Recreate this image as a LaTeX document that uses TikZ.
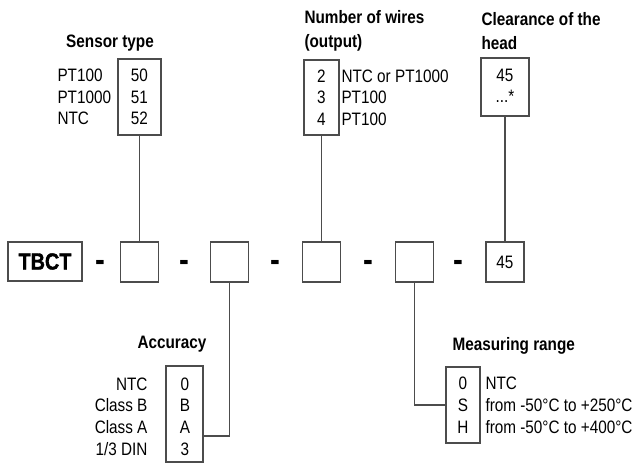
\documentclass[tikz,border=0pt]{standalone}
\usepackage{fontspec}
\setmainfont{Liberation Sans}[FakeStretch=0.85]
\usepackage{tikz}
\usetikzlibrary{positioning,calc}

\begin{document}
\begin{tikzpicture}[x=0.75pt, y=-0.75pt, line width=0.8pt,
    codebox/.style={draw=black!70, minimum width=28.5pt, minimum height=30pt, inner sep=0pt, font=\fontsize{13.5}{16}\selectfont},
    optbox/.style={draw=black!70, inner sep=0pt},
    optval/.style={align=center, inner sep=0pt, font=\fontsize{13.5}{16}\selectfont},
    optlbl/.style={inner sep=0pt, font=\fontsize{13.5}{16}\selectfont},
    lowlist/.style={font=\fontsize{13.5}{16.3}\selectfont},
    grouptitle/.style={inner sep=0pt, font=\fontsize{13.5}{18}\selectfont\bfseries},
    dashsym/.style={inner sep=0pt, font=\fontsize{26}{26}\selectfont\bfseries},
    link/.style={draw=black!70}]
    \useasboundingbox (0,0) rectangle (637,464);

    % Order code
    \node[codebox, minimum width=55.5pt, minimum height=29.25pt] (tbct) at (45,261.5) {\fontsize{17.5}{17.5}\selectfont\bfseries\addfontfeature{FakeBold=1.5}TBCT};
    \node[dashsym] (d1) at (100,266) {-};
    \node[codebox] (sens) at (139.5,262) {};
    \node[dashsym] (d2) at (184,266) {-};
    \node[codebox] (acc) at (229.5,262) {};
    \node[dashsym] (d3) at (275,266) {-};
    \node[codebox] (wires) at (321.5,262) {};
    \node[dashsym] (d4) at (368,266) {-};
    \node[codebox] (range) at (414.5,262) {};
    \node[dashsym] (d5) at (458,266) {-};
    \node[codebox] (clear) at (505,262) {45};

    % Sensor type
    \node[grouptitle] (senstitle) at (110,43) {Sensor type};
    \node[optbox, minimum width=32.25pt, minimum height=57pt] (sensopt) at (139.5,97) {};
    \node[optval] (sensval) at (sensopt) {50\\51\\52};
    \node[optlbl, anchor=west, align=left] (senslbl) at (57,97) {PT100\\PT1000\\NTC};

    % Number of wires
    \node[grouptitle, anchor=west, align=left] (wirestitle) at (304,31) {Number of wires\\(output)};
    \node[optbox, minimum width=26.25pt, minimum height=56.25pt] (wiresopt) at (321.5,97.5) {};
    \node[optval] (wiresval) at (wiresopt) {2\\3\\4};
    \node[optlbl, anchor=west, align=left] (wireslbl) at (341,97.5) {NTC or PT1000\\PT100\\PT100};

    % Clearance of the head
    \node[grouptitle, anchor=west, align=left] (cleartitle) at (481,31) {Clearance of the\\head};
    \node[optbox, minimum width=36pt, minimum height=43.5pt] (clearopt) at (505,87) {};
    \node[optval] (clearval) at (505,86) {45\\...*};

    % Accuracy
    \node[grouptitle] (acctitle) at (172,344) {Accuracy};
    \node[optbox, minimum width=27.75pt, minimum height=72pt] (accopt) at (184.5,414) {};
    \node[optval, lowlist] (accval) at (185,416.5) {0\\B\\A\\3\vphantom{/}};
    \node[optlbl, lowlist, anchor=east, align=right] (acclbl) at (148,416.5) {NTC\\Class B\\Class A\\1/3 DIN};

    % Measuring range
    \node[grouptitle, anchor=west] (rangetitle) at (452,346) {Measuring range};
    \node[optbox, minimum width=25.5pt, minimum height=57pt] (rangeopt) at (463,405) {};
    \node[optval, lowlist] (rangeval) at (rangeopt) {0\\S\\H};
    \node[optlbl, lowlist, anchor=west, align=left] (rangelbl) at (485,405.5) {NTC\\from -50°C to +250°C\\from -50°C to +400°C};

    % Connections
    \coordinate (accturn) at (229.5,436);
    \draw[link] (sensopt.south) -- (sens.north);
    \draw[link] (wiresopt.south) -- (wires.north);
    \draw[link] (clearopt.south) -- (clear.north);
    \draw[link] (acc.south) -- (accturn) -- (accturn -| accopt.east);
    \draw[link] (range.south) |- (rangeopt.west);
\end{tikzpicture}
\end{document}
